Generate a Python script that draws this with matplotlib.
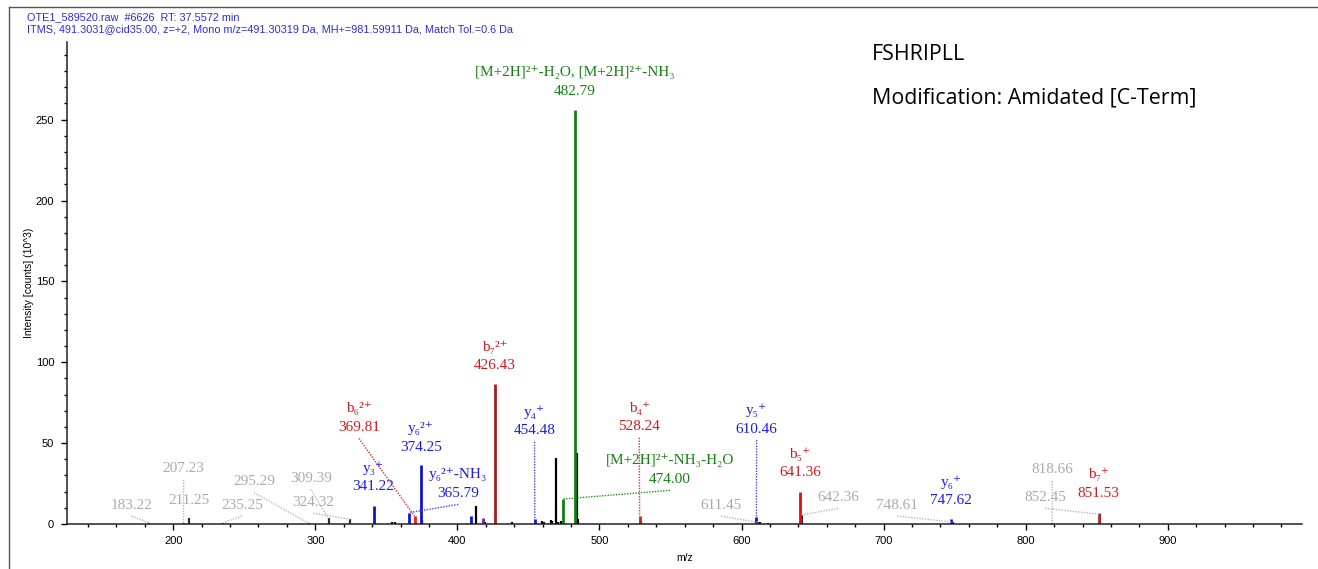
import matplotlib
matplotlib.use("Agg")
import matplotlib.pyplot as plt
from matplotlib.ticker import MultipleLocator
from matplotlib.lines import Line2D

# scan header
raw_file = "OTE1_589520.raw"
scan_no = 6626
rt_min = 37.5572
scan_info = "ITMS, 491.3031@cid35.00, z=+2, Mono m/z=491.30319 Da, MH+=981.59911 Da, Match Tol.=0.6 Da"
sequence = "FSHRIPLL"
modification = "Modification: Amidated [C-Term]"

# matched b ions (intensity in 10^3 counts)
b_mz = [369.81, 426.43, 528.24, 641.36, 851.53]
b_int = [4.9, 86.3, 4.9, 20.0, 7.0]
b_names = ["b₆²⁺", "b₇²⁺", "b₄⁺", "b₅⁺", "b₇⁺"]

# matched y ions
y_mz = [341.22, 365.79, 374.25, 454.48, 610.46, 747.62]
y_int = [11.3, 7.0, 36.4, 2.9, 4.1, 3.1]
y_names = ["y₃⁺", "y₆²⁺-NH₃", "y₆²⁺", "y₄⁺", "y₅⁺", "y₆⁺"]

# precursor neutral losses
prec_mz = [474.00, 482.79]
prec_int = [15.4, 256.1]
prec_names = ["[M+2H]²⁺-NH₃-H₂O", "[M+2H]²⁺-H₂O, [M+2H]²⁺-NH₃"]

# unassigned peaks that carry a centroid label
other_mz = [183.22, 207.23, 211.25, 235.25, 295.29, 309.39, 324.32,
            611.45, 642.36, 748.61, 818.66, 852.45]
other_int = [0.6, 0.5, 3.9, 0.8, 0.5, 3.5, 2.9, 1.0, 5.6, 1.2, 0.5, 6.0]

# unlabelled peaks
noise_mz = [353.7, 355.9, 375.3, 413.1, 419.4, 438.2, 459.3, 461.0, 465.7,
            466.8, 469.2, 471.0, 472.9, 483.9, 484.8, 529.0, 612.8, 618.6,
            730.0, 834.7]
noise_int = [1.0, 1.4, 2.6, 11.1, 1.0, 1.0, 1.8, 1.5, 2.5, 2.0, 40.6, 1.5,
             2.0, 44.0, 3.0, 2.0, 1.0, 0.5, 0.3, 0.3]
y_extra_mz = [409.6]
y_extra_int = [4.9]
int_extra_mz = [417.8]
int_extra_int = [3.9]

RED, BLUE, GREEN, GREY = "#d41a1a", "#1c1cf0", "#168016", "#ababab"
SERIF = ["Liberation Serif", "DejaVu Serif"]
LABEL_SIZE = 11

fig = plt.figure(figsize=(13.18, 5.69), dpi=100)
ax = fig.add_axes([0.0506, 0.0791, 0.9373, 0.8471])

# peak sticks
ax.vlines(noise_mz, 0, noise_int, color="black", lw=1.6)
ax.vlines(other_mz, 0, other_int, color="#303030", lw=1.6)
ax.vlines(y_extra_mz, 0, y_extra_int, color="#1010d0", lw=2)
ax.vlines(int_extra_mz, 0, int_extra_int, color="#6a2aa0", lw=2)
ax.vlines(b_mz, 0, b_int, color=["#f01a1a", "#a81c1c", "#a83030", "#e01010", "#a83030"], lw=2)
ax.vlines(y_mz, 0, y_int, color="#1414c8", lw=2)
ax.vlines(prec_mz, 0, prec_int, color="#128012", lw=2)

# label centres (value line) and whether a leader is drawn
b_place = [(330.7, 59.7, True), (426.5, 97.7, False), (528.0, 60.1, True),
           (641.1, 31.7, False), (851.1, 19.0, False)]
y_place = [(340.8, 23.0, False), (400.6, 18.9, True), (374.4, 47.6, False),
           (454.3, 57.6, True), (610.6, 58.7, True), (747.4, 14.4, False)]
prec_place = [(549.6, 27.6, True), (482.8, 267.6, False)]
other_place = [(170.7, 11.7, True), (207.3, 34.0, True), (211.3, 14.8, False),
               (248.4, 11.7, True), (256.8, 26.1, True), (296.7, 28.2, True),
               (298.6, 13.4, True), (585.5, 11.7, True), (668.1, 16.5, True),
               (709.6, 11.7, True), (818.7, 33.4, True), (813.6, 16.5, True)]


def annotate_series(mzs, ints, names, places, color, leader_color):
    for i, (mz, h, (lx, ly, lead)) in enumerate(zip(mzs, ints, places)):
        ax.text(lx, ly, f"{mz:.2f}", color=color, family=SERIF, fontsize=LABEL_SIZE,
                ha="center", va="center")
        if names is not None:
            ax.annotate(names[i], xy=(lx, ly), xytext=(0, 13.5),
                        textcoords="offset points", color=color, family=SERIF,
                        fontsize=LABEL_SIZE, ha="center", va="center")
        if lead:
            ax.plot([lx, mz], [ly - 6.8, h], color=leader_color, lw=1,
                    ls=(0, (1, 1)))


annotate_series(other_mz, other_int, None, other_place, GREY, "#b8b8b8")
annotate_series(b_mz, b_int, b_names, b_place, RED, "#e03030")
annotate_series(y_mz, y_int, y_names, y_place, BLUE, "#4040ff")
annotate_series(prec_mz, prec_int, prec_names, prec_place, GREEN, "#209020")

ax.set_xlim(125, 994.5)
ax.set_ylim(0, 298)
for s in ["top", "right"]:
    ax.spines[s].set_visible(False)
for s in ["left", "bottom"]:
    ax.spines[s].set_color("#222222")
    ax.spines[s].set_linewidth(1.1)

ax.xaxis.set_major_locator(MultipleLocator(100))
ax.xaxis.set_minor_locator(MultipleLocator(20))
ax.yaxis.set_major_locator(MultipleLocator(50))
ax.yaxis.set_minor_locator(MultipleLocator(10))
ax.tick_params(which="major", length=4, width=1, labelsize=8, pad=5)
ax.tick_params(which="minor", length=2.5, width=1)
for lbl in ax.get_xticklabels() + ax.get_yticklabels():
    lbl.set_family("Liberation Sans")

ax.set_xlabel("m/z", fontsize=7.5, family="Liberation Sans", labelpad=5)
ax.set_ylabel("Intensity [counts] (10^3)", fontsize=7.5, family="Liberation Sans", labelpad=1)

# header and peptide info
fig.text(27 / 1318, 1 - 17 / 569, f"{raw_file}  #{scan_no}  RT: {rt_min} min",
         color="#2a2ae6", fontsize=7.8, family="Liberation Sans", va="center")
fig.text(27 / 1318, 1 - 29 / 569, scan_info,
         color="#2a2ae6", fontsize=7.8, family="Liberation Sans", va="center")
fig.text(872 / 1318, 1 - 55 / 569, sequence, fontsize=15.4, family="Open Sans", va="center")
fig.text(872 / 1318, 1 - 98 / 569, modification, fontsize=15.4, family="Open Sans", va="center")

# outer frame
fig.add_artist(Line2D([9 / 1318, 9 / 1318], [0, 1 - 7 / 569], color="#555555", lw=1))
fig.add_artist(Line2D([9 / 1318, 1], [1 - 7 / 569, 1 - 7 / 569], color="#555555", lw=1))

fig.savefig("out.png", dpi=100)
